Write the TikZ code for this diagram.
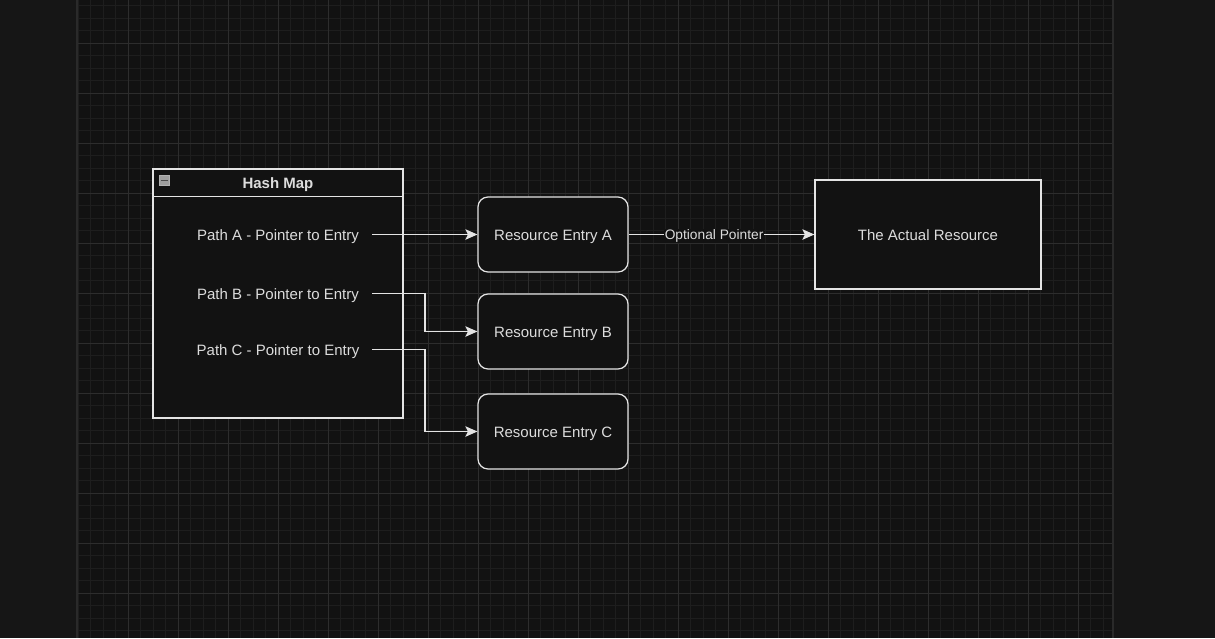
\documentclass[tikz,border=0pt]{standalone}
\usepackage{fontspec}
\setmainfont{Liberation Sans}
\usetikzlibrary{arrows.meta,calc}
\definecolor{outerbg}{HTML}{161616}
\definecolor{canvasbg}{HTML}{121212}
\definecolor{gridminor}{HTML}{1E1E1E}
\definecolor{gridmajor}{HTML}{2D2D2D}
\definecolor{edgeln}{HTML}{2A2A2A}
\definecolor{fg}{HTML}{E4E4E4}
\definecolor{txt}{HTML}{DCDCDC}
\tikzset{
  minorln/.style={draw=gridminor, line width=0.8pt},
  majorln/.style={draw=gridmajor, line width=0.9pt},
  box/.style={draw=fg, line width=1.25pt, fill=canvasbg, text=txt, font=\fontsize{15}{18}\selectfont, inner sep=0pt, text height=15pt, text depth=3pt},
  rbox/.style={box, rounded corners=10pt, minimum width=150pt, minimum height=75pt},
  rowtext/.style={text=txt, font=\fontsize{15}{18}\selectfont, inner sep=0pt},
  conn/.style={draw=fg, line width=1.25pt, -{Stealth[length=12pt,width=10.5pt,inset=2.5pt]}},
  lbl/.style={text=txt, font=\fontsize{13.75}{16}\selectfont, fill=canvasbg, inner sep=0.5pt}
}
\begin{document}
\begin{tikzpicture}[x=1pt,y=-1pt]
\useasboundingbox (0,0) rectangle (1215,638);
\fill[outerbg] (0,0) rectangle (1215,638);
\fill[canvasbg] (78,0) rectangle (1112,638);
% minor grid
\foreach \i in {0,...,82} \draw[minorln] ({78+12.5*\i},0) -- ({78+12.5*\i},638);
\foreach \j in {0,...,51} \draw[minorln] (78,{5.83+12.5*\j}) -- (1112,{5.83+12.5*\j});
% major grid
\foreach \i in {1,...,20} \draw[majorln] ({78+50*\i},0) -- ({78+50*\i},638);
\foreach \j in {0,...,12} \draw[majorln] (78,{43.33+50*\j}) -- (1112,{43.33+50*\j});
% canvas borders
\draw[edgeln, line width=2pt] (77,0) -- (77,638);
\draw[edgeln, line width=2pt] (1112.5,0) -- (1112.5,638);

% Hash map container
\node[box, minimum width=250pt, minimum height=249pt] (hm) at (278,293.5) {};
\draw[draw=fg, line width=1.25pt] (hm.north west) ++(0,28) coordinate (hsl) -- (hsl -| hm.east);
\node[text=txt, font=\bfseries\fontsize{15}{18}\selectfont, inner sep=0pt] (hmt) at (278,184.5) {Hash Map};
\node[draw=gray!60, fill=gray!75, minimum width=10pt, minimum height=10pt, inner sep=0pt] (icon) at (164.5,180.5) {};
\draw[draw=black!70, line width=1.4pt] ($(icon.west)+(2,0)$) -- ($(icon.east)+(-2,0)$);

% rows
\node[rowtext] (pa) at (278,237) {Path A - Pointer to Entry};
\node[rowtext] (pb) at (278,295.5) {Path B - Pointer to Entry};
\node[rowtext] (pc) at (278,351.5) {Path C - Pointer to Entry};
\coordinate (sa) at (372,234.5);
\coordinate (sb) at (372,293.5);
\coordinate (sc) at (372,349.5);

% entries
\node[rbox] (ea) at (553,234.5) {Resource Entry A};
\node[rbox] (eb) at (553,331.5) {Resource Entry B};
\node[rbox] (ec) at (553,431.5) {Resource Entry C};
\node[box, minimum width=226pt, minimum height=109pt] (res) at (928,234.5) {The Actual Resource};

% connectors
\draw[conn] (sa) -- (ea.west);
\draw[conn] (sb) -- (425,293.5) |- (eb.west);
\draw[conn] (sc) -- (425,349.5) |- (ec.west);
\draw[conn] (ea.east) -- node[lbl, pos=0.46, yshift=-1.5pt] (lab) {Optional Pointer} (res.west);
\end{tikzpicture}
\end{document}
